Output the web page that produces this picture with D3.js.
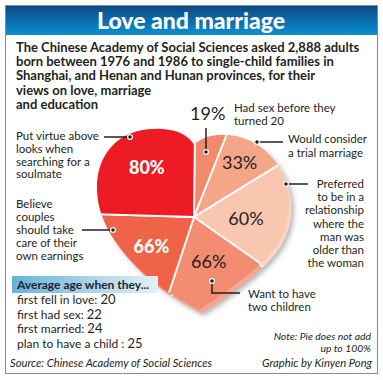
<!DOCTYPE html>
<html><head><meta charset="utf-8">
<script src="https://cdn.jsdelivr.net/npm/d3@7"></script>
<style>body{margin:0;background:#fff}svg{display:block}text{font-family:Lato,"Open Sans",sans-serif;fill:#231f20}</style>
</head><body><svg id="c" width="383" height="380"></svg>
<script>
// ---------- data ----------
const title = "Love and marriage";
const introLines = [
  "The Chinese Academy of Social Sciences asked 2,888 adults",
  "born between 1976 and 1986 to single-child families in",
  "Shanghai, and Henan and Hunan provinces, for their",
  "views on love, marriage",
  "and education"
];
const sliceValues = [19, 33, 60, 66, 66, 80];
const sliceText = ["19%", "33%", "60%", "66%", "66%", "80%"];
const sliceColors = ["#F18A6D", "#F5A688", "#F9C6B0", "#F38D71", "#EF6448", "#ED1C24"];
const sliceNotes = [
  ["Had sex before they", "turned 20"],
  ["Would consider", "a trial marriage"],
  ["Preferred", "to be in a", "relationship", "where the", "man was", "older than", "the woman"],
  ["Want to have", "two children"],
  ["Believe", "couples", "should take", "care of their", "own earnings"],
  ["Put virtue above", "looks when", "searching for a", "soulmate"]
];
const ageHeader = "Average age when they...";
const ageEvents = ["first fell in love", "first had sex", "first married", "plan to have a child "];
const ageValues = [20, 22, 24, 25];
const noteLines = ["Note: Pie does not add", "up to 100%"];
const source = "Source: Chinese Academy of Social Sciences";
const credit = "Graphic by Kinyen Pong";

// ---------- layout ----------
const svg = d3.select("#c");
const defs = svg.append("defs");
const hg = defs.append("linearGradient").attr("id", "hg").attr("x1", 0).attr("y1", 0).attr("x2", 0).attr("y2", 1);
hg.append("stop").attr("offset", 0).attr("stop-color", "#0B4A86");
hg.append("stop").attr("offset", 1).attr("stop-color", "#0A90D0");
const ag = defs.append("linearGradient").attr("id", "ag").attr("x1", 0).attr("y1", 0).attr("x2", 1).attr("y2", 0);
ag.append("stop").attr("offset", 0).attr("stop-color", "#66B2D8");
ag.append("stop").attr("offset", 1).attr("stop-color", "#E4F1F8");
defs.append("filter").attr("id", "blur").attr("x", -0.2).attr("y", -0.2).attr("width", 1.4).attr("height", 1.4)
  .append("feGaussianBlur").attr("stdDeviation", 2.5);

// frame + header
svg.append("rect").attr("x", 5.5).attr("y", 5.5).attr("width", 372).attr("height", 368)
  .attr("fill", "#fff").attr("stroke", "#8a8a8a").attr("stroke-width", 1);
svg.append("rect").attr("x", 6).attr("y", 6).attr("width", 371).attr("height", 29).attr("fill", "url(#hg)");
svg.append("text").attr("x", 191).attr("y", 28.5).attr("text-anchor", "middle")
  .style("font-weight", 900).style("font-size", "23px").style("fill", "#fff").text(title);

// intro
svg.append("g").selectAll("text").data(introLines).join("text")
  .attr("x", 16).attr("y", (d, i) => 52 + i * 14.2)
  .style("font-weight", 700).style("font-size", "13px").text(d => d);

// heart
const cx = 194, cy = 217;
function heart(dx, dy) {
  const p = d3.path();
  const P = (x, y) => [x + dx, y + dy];
  p.moveTo(...P(194, 145));
  p.bezierCurveTo(...P(185, 129), ...P(160, 126), ...P(138, 131));
  p.bezierCurveTo(...P(110, 138), ...P(96, 163), ...P(97, 190));
  p.bezierCurveTo(...P(98, 225), ...P(122, 255), ...P(152, 280));
  p.bezierCurveTo(...P(172, 296), ...P(190, 305), ...P(199, 310));
  p.bezierCurveTo(...P(214, 300), ...P(238, 284), ...P(258, 266));
  p.bezierCurveTo(...P(281, 246), ...P(290, 225), ...P(289, 200));
  p.bezierCurveTo(...P(287, 170), ...P(268, 145), ...P(240, 137));
  p.bezierCurveTo(...P(220, 132), ...P(202, 136), ...P(194, 145));
  p.closePath();
  return p.toString();
}
defs.append("clipPath").attr("id", "hcRim").append("path").attr("d", heart(2.5, 3.5));
defs.append("clipPath").attr("id", "hcFace").append("path").attr("d", heart(0, 0));

svg.append("path").attr("d", heart(5, 6)).attr("fill", "#7a7a7a").attr("opacity", 0.55).attr("filter", "url(#blur)");

const pie = d3.pie().sort(null).value(d => d).startAngle(0.01).endAngle(0.01 + 2 * Math.PI);
const arcs = pie(sliceValues);
const arc = d3.arc().innerRadius(0).outerRadius(150);

svg.append("g").attr("clip-path", "url(#hcRim)")
  .append("g").attr("transform", `translate(${cx + 2.5},${cy + 3.5})`)
  .selectAll("path").data(arcs).join("path")
  .attr("d", arc)
  .attr("fill", (d, i) => d3.interpolateRgb(sliceColors[i], "#fff")(0.22))
  .attr("stroke", "#fff").attr("stroke-width", 1.6);
svg.append("g").attr("clip-path", "url(#hcFace)")
  .append("g").attr("transform", `translate(${cx},${cy})`)
  .selectAll("path").data(arcs).join("path")
  .attr("d", arc).attr("fill", (d, i) => sliceColors[i])
  .attr("stroke", "#fff").attr("stroke-width", 1.8);

// slice labels
const labelR = [0, 71, 52, 47, 52, 68];
const inside = [false, true, true, true, true, true];
const white = [false, false, false, false, true, true];
arcs.forEach((a, i) => {
  if (!inside[i]) return;
  const m = (a.startAngle + a.endAngle) / 2;
  const x = cx + Math.sin(m) * labelR[i], y = cy - Math.cos(m) * labelR[i];
  svg.append("text").attr("x", x).attr("y", y + 6.5).attr("text-anchor", "middle")
    .style("font-size", "18px").style("font-weight", white[i] ? 900 : 400)
    .style("fill", white[i] ? "#fff" : "#231f20").text(sliceText[i]);
});
svg.append("text").attr("x", 190).attr("y", 120).style("font-size", "18px").text(sliceText[0]);

// annotations
function lines(arr, x, y0, step, anchor) {
  svg.append("g").selectAll("text").data(arr).join("text")
    .attr("x", x).attr("y", (d, i) => y0 + i * step).attr("text-anchor", anchor)
    .style("font-size", "11.5px").text(d => d);
}
lines(sliceNotes[0], 234, 112, 12.5, "start");
lines(sliceNotes[1], 288, 143, 14, "start");
lines(sliceNotes[2], 364, 188, 13.2, "end");
lines(sliceNotes[3], 248, 298, 13, "start");
lines(sliceNotes[4], 16, 207.5, 13.2, "start");
lines(sliceNotes[5], 16, 140, 12.8, "start");

const lead = svg.append("g").attr("fill", "none").attr("stroke", "#231f20").attr("stroke-width", 1.5);
[[[206, 152], [206, 128]], [[257, 142], [283, 142]], [[286, 184], [308, 184]],
 [[212, 281], [212, 293], [240, 293]], [[113, 230], [82, 230]], [[130, 137], [104, 137]]]
  .forEach(pts => {
    lead.append("path").attr("d", d3.line()(pts));
    svg.append("circle").attr("cx", pts[0][0]).attr("cy", pts[0][1]).attr("r", 2.4)
      .attr("fill", "#231f20").attr("stroke", "#fff").attr("stroke-width", 1.2);
  });

// average age box
svg.append("rect").attr("x", 12).attr("y", 276).attr("width", 146).attr("height", 17).attr("fill", "url(#ag)");
svg.append("text").attr("x", 17).attr("y", 289).style("font-size", "12px").style("font-weight", 700)
  .style("fill", "#1d2333").text(ageHeader);
ageEvents.forEach((e, i) => {
  const t = svg.append("text").attr("x", 17).attr("y", 304 + i * 14.7).style("font-size", "12px");
  t.append("tspan").text(e + ": ");
  t.append("tspan").style("font-size", "13px").text(ageValues[i]);
});

// footer
svg.append("g").selectAll("text").data(noteLines).join("text")
  .attr("x", 371).attr("y", (d, i) => 339.5 + i * 12).attr("text-anchor", "end")
  .style("font-size", "10.4px").style("font-style", "italic").text(d => d);
svg.append("text").attr("x", 10).attr("y", 367).style("font-size", "11.2px").style("font-style", "italic").text(source);
svg.append("text").attr("x", 372).attr("y", 367).attr("text-anchor", "end").style("font-size", "11.2px").style("font-style", "italic").text(credit);
</script></body></html>
